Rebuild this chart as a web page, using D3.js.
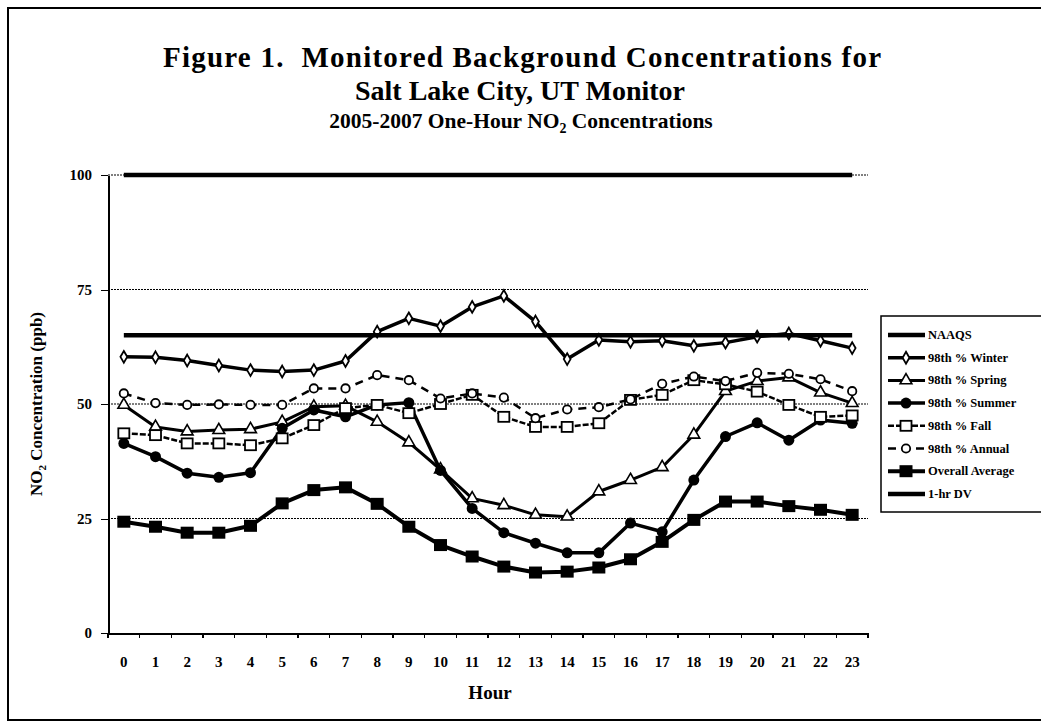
<!DOCTYPE html>
<html>
<head>
  <meta charset="UTF-8">
  <title>Figure 1. Monitored Background Concentrations for Salt Lake City, UT Monitor</title>
  <script src="https://d3js.org/d3.v7.min.js"></script>
  <style>
    body { margin: 0; background: #fff; }
    svg { font-family: "Liberation Serif", "Times New Roman", serif; font-weight: bold; }
    .axis path, .axis line { stroke: #000; shape-rendering: crispEdges; }
    .axis text { font-family: "Liberation Serif", serif; font-weight: bold; fill: #000; }
    .grid-line { stroke: #000; stroke-width: 1; stroke-dasharray: 2,1; }
    .legend text { font-size: 12.5px; }
  </style>
</head>
<body>
  <svg width="1041" height="728"></svg>

  <script>
    const hours = ["0","1","2","3","4","5","6","7","8","9","10","11",
                   "12","13","14","15","16","17","18","19","20","21","22","23"];
    const yTicks = [0, 25, 50, 75, 100];

    const naaqs   = [100,100,100,100,100,100,100,100,100,100,100,100,
                     100,100,100,100,100,100,100,100,100,100,100,100];
    const winter  = [60.3,60.2,59.5,58.4,57.4,57.1,57.4,59.4,65.8,68.7,67.0,71.2,
                     73.6,68.0,59.8,64.0,63.6,63.8,62.7,63.4,64.7,65.4,63.8,62.2];
    const spring  = [49.8,45.0,44.0,44.3,44.5,46.1,49.4,49.6,46.1,41.6,35.7,29.4,
                     27.9,25.8,25.4,30.9,33.4,36.2,43.3,52.8,55.0,55.8,52.5,50.2];
    const summer  = [41.4,38.5,34.9,34.0,35.0,44.7,48.7,47.2,49.8,50.3,35.5,27.2,
                     21.9,19.6,17.5,17.5,24.0,22.1,33.4,42.9,45.9,42.1,46.5,45.8];
    const fall    = [43.6,43.2,41.4,41.4,41.0,42.5,45.4,49.1,49.8,48.0,50.0,52.0,
                     47.2,45.0,45.0,45.8,50.9,52.0,55.2,54.3,52.7,49.8,47.2,47.5];
    const annual  = [52.3,50.2,49.8,49.9,49.8,49.8,53.4,53.4,56.3,55.2,51.2,52.3,
                     51.4,46.9,48.8,49.3,51.0,54.4,56.0,55.0,56.8,56.6,55.4,52.8];
    const overall = [24.3,23.2,21.9,21.9,23.4,28.3,31.2,31.8,28.2,23.2,19.2,16.7,
                     14.5,13.2,13.4,14.3,16.1,19.9,24.7,28.7,28.7,27.7,26.9,25.8];
    const dv      = [65,65,65,65,65,65,65,65,65,65,65,65,
                     65,65,65,65,65,65,65,65,65,65,65,65];

    const series = [
      { name: "NAAQS",           values: naaqs,   width: 4.5, dash: null,  marker: null },
      { name: "98th % Winter",   values: winter,  width: 3.5, dash: null,  marker: "diamond" },
      { name: "98th % Spring",   values: spring,  width: 3,   dash: null,  marker: "triangle" },
      { name: "98th % Summer",   values: summer,  width: 3.5, dash: null,  marker: "circle" },
      { name: "98th % Fall",     values: fall,    width: 2.5, dash: "6,2", marker: "square" },
      { name: "98th % Annual",   values: annual,  width: 2.5, dash: "8,6", marker: "ring" },
      { name: "Overall Average", values: overall, width: 4,   dash: null,  marker: "bigsquare" },
      { name: "1-hr DV",         values: dv,      width: 4.5, dash: null,  marker: null }
    ];

    const svg = d3.select("svg");
    const plotLeft = 108, plotRight = 868, plotTop = 175, plotBottom = 633;

    const x = d3.scaleBand().domain(hours).range([plotLeft, plotRight]).padding(0);
    const bw = x.bandwidth();
    const cx = h => x(h) + bw / 2;
    const y = d3.scaleLinear().domain([0, 100]).range([plotBottom, plotTop]);

    // outer frame
    svg.append("rect")
      .attr("x", 8).attr("y", 8)
      .attr("width", 1060).attr("height", 712)
      .attr("fill", "none").attr("stroke", "#000").attr("stroke-width", 2);

    // title
    const title = svg.append("g").attr("text-anchor", "middle").attr("fill", "#000");
    title.append("text").attr("x", 522).attr("y", 67)
      .attr("font-size", 29).attr("xml:space", "preserve")
      .attr("textLength", 718).attr("lengthAdjust", "spacing")
      .text("Figure 1.  Monitored Background Concentrations for");
    title.append("text").attr("x", 520).attr("y", 100)
      .attr("font-size", 28).text("Salt Lake City, UT Monitor");
    const t3 = title.append("text").attr("x", 521).attr("y", 128).attr("font-size", 21.5);
    t3.append("tspan").text("2005-2007 One-Hour NO");
    t3.append("tspan").attr("font-size", 14).attr("dy", 5).text("2");
    t3.append("tspan").attr("dy", -5).text(" Concentrations");

    // gridlines
    svg.append("g").selectAll("line")
      .data(yTicks.filter(d => d > 0))
      .join("line")
      .attr("class", "grid-line")
      .attr("x1", plotLeft).attr("x2", plotRight)
      .attr("y1", d => y(d)).attr("y2", d => y(d));

    // y axis
    const yAxis = svg.append("g")
      .attr("class", "axis")
      .attr("transform", `translate(${plotLeft},0)`)
      .call(d3.axisLeft(y).tickValues(yTicks).tickSize(7).tickPadding(9).tickSizeOuter(0));
    yAxis.select(".domain").attr("stroke-width", 2);
    yAxis.selectAll("text").attr("font-size", 15);

    // x axis, ticks between categories
    const xAxis = svg.append("g")
      .attr("class", "axis")
      .attr("transform", `translate(0,${plotBottom})`)
      .call(d3.axisBottom(x).tickSize(5).tickPadding(18).tickSizeOuter(0));
    xAxis.select(".domain").attr("stroke-width", 2);
    xAxis.selectAll(".tick line").attr("x1", -bw / 2).attr("x2", -bw / 2).attr("stroke-width", 1.5);
    xAxis.append("line")
      .attr("x1", plotRight).attr("x2", plotRight).attr("y1", 0).attr("y2", 5)
      .attr("stroke", "#000").attr("stroke-width", 1.5);
    xAxis.selectAll("text").attr("font-size", 15);

    // axis titles
    svg.append("text")
      .attr("x", 490).attr("y", 699)
      .attr("text-anchor", "middle").attr("font-size", 19)
      .text("Hour");
    const yt = svg.append("text")
      .attr("transform", `translate(42,404) rotate(-90)`)
      .attr("text-anchor", "middle").attr("font-size", 17);
    yt.append("tspan").text("NO");
    yt.append("tspan").attr("font-size", 11).attr("dy", 4).text("2");
    yt.append("tspan").attr("dy", -4).text(" Concentration  (ppb)");

    // markers
    function drawMarker(sel, type) {
      if (type === "diamond") {
        sel.append("path").attr("d", d3.symbol(d3.symbolDiamond, 40)())
          .attr("fill", "#fff").attr("stroke", "#000").attr("stroke-width", 1.8);
      } else if (type === "triangle") {
        sel.append("path").attr("d", d3.symbol(d3.symbolTriangle, 60)())
          .attr("fill", "#fff").attr("stroke", "#000").attr("stroke-width", 1.6);
      } else if (type === "circle") {
        sel.append("circle").attr("r", 5.5).attr("fill", "#000");
      } else if (type === "square") {
        sel.append("rect").attr("x", -5.5).attr("y", -5).attr("width", 11).attr("height", 10)
          .attr("fill", "#fff").attr("stroke", "#000").attr("stroke-width", 1.8);
      } else if (type === "ring") {
        sel.append("circle").attr("r", 4.2)
          .attr("fill", "#fff").attr("stroke", "#000").attr("stroke-width", 1.8);
      } else if (type === "bigsquare") {
        sel.append("rect").attr("x", -6.5).attr("y", -6).attr("width", 13).attr("height", 12)
          .attr("fill", "#000");
      }
    }

    const line = d3.line().x((d, i) => cx(hours[i])).y(d => y(d));

    series.forEach(s => {
      const g = svg.append("g");
      g.append("path")
        .attr("d", line(s.values))
        .attr("fill", "none")
        .attr("stroke", "#000")
        .attr("stroke-width", s.width)
        .attr("stroke-dasharray", s.dash)
        .attr("stroke-linejoin", "round");
      if (s.marker) {
        g.selectAll("g.pt")
          .data(s.values)
          .join("g")
          .attr("class", "pt")
          .attr("transform", (d, i) => `translate(${cx(hours[i])},${y(d)})`)
          .each(function () { drawMarker(d3.select(this), s.marker); });
      }
    });

    // legend
    const legend = svg.append("g").attr("class", "legend");
    legend.append("rect")
      .attr("x", 881).attr("y", 316).attr("width", 200).attr("height", 196)
      .attr("fill", "#fff").attr("stroke", "#000").attr("stroke-width", 1.5);
    series.forEach((s, i) => {
      const ly = 335 + i * 22.7;
      const item = legend.append("g");
      item.append("line")
        .attr("x1", 888).attr("x2", 925).attr("y1", ly).attr("y2", ly)
        .attr("stroke", "#000").attr("stroke-width", s.width)
        .attr("stroke-dasharray", s.dash);
      if (s.marker) {
        const m = item.append("g").attr("transform", `translate(906,${ly})`);
        drawMarker(m, s.marker);
      }
      item.append("text").attr("x", 928).attr("y", ly + 4).text(s.name);
    });
  </script>
</body>
</html>
